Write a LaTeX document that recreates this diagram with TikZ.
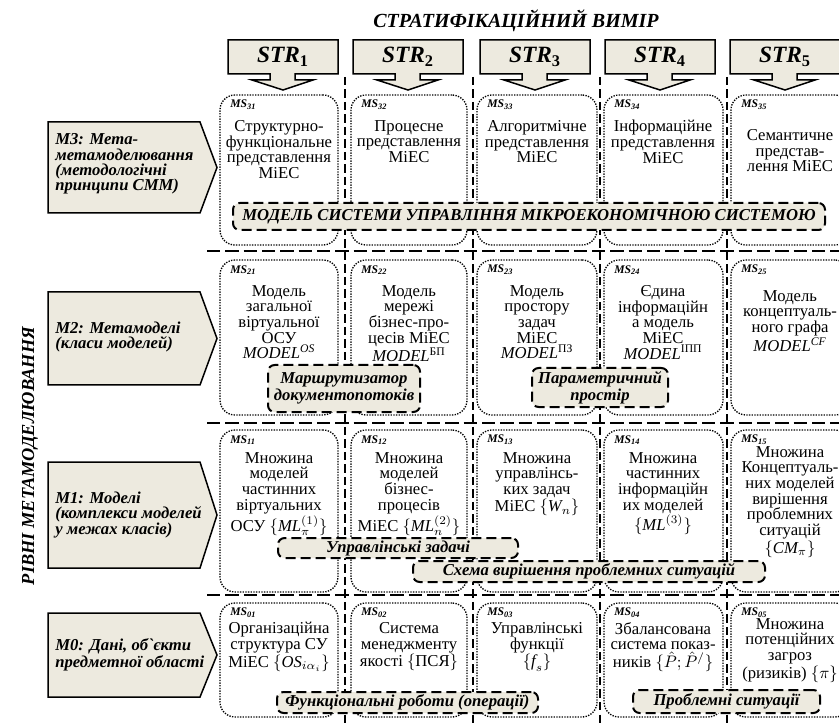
\documentclass[tikz,border=0pt]{standalone}
\usepackage{fontspec}
\setmainfont{Liberation Serif}
\usepackage{amsmath}
\usepackage{tikz}
\usetikzlibrary{fit}
\definecolor{bandfill}{RGB}{237,234,223}

\begin{document}
\begin{tikzpicture}[x=0.6pt,y=-0.6pt,
  divider/.style={line width=0.8pt, dash pattern=on 5pt off 2.5pt},
  rowline/.style={line width=0.8pt, dash pattern=on 8pt off 3pt},
  strbox/.style={draw, line width=0.9pt, fill=bandfill},
  strtext/.style={font=\fontsize{14}{14}\selectfont\bfseries\itshape, inner sep=0},
  lvlbox/.style={draw, line width=0.9pt, fill=bandfill},
  lvltext/.style={font=\fontsize{10}{9.2}\selectfont\bfseries\itshape, align=left, anchor=west, inner sep=0},
  msbox/.style={draw, line width=0.8pt, dash pattern=on 0.8pt off 0.8pt, rounded corners=9pt, inner sep=0},
  mslabel/.style={font=\fontsize{7}{7}\selectfont\bfseries\itshape, anchor=west, inner sep=0},
  cell/.style={font=\fontsize{10}{9.4}\selectfont, align=center, anchor=north, inner sep=0},
  band/.style={draw, fill=bandfill, line width=1.2pt, dash pattern=on 6pt off 3pt, rounded corners=4pt, inner sep=0, align=center, font=\fontsize{10}{10}\selectfont\bfseries\itshape},
  heading/.style={font=\fontsize{12}{12}\selectfont\bfseries\itshape}]
\useasboundingbox (0,0) rectangle (839,727);
\clip (0,0) rectangle (839,727);

\node[heading] (title) at (516,21) {СТРАТИФІКАЦІЙНИЙ ВИМІР};
\node[heading, rotate=90, font=\fontsize{11}{11}\selectfont\bfseries\itshape] (levels) at (30,456) {РІВНІ МЕТАМОДЕЛЮВАННЯ};

\foreach \x in {345,473,600,727}
  \draw[divider] (\x,77) -- (\x,727);
\foreach \y in {251,423,595}
  \draw[rowline] (207,\y) -- (839,\y);

\foreach \i/\x in {1/283,2/408,3/535,4/660,5/785}{
  \draw[strbox] (\x-55,40) -- (\x+55,40) -- (\x+55,74) -- (\x+12,74) -- (\x+12,80) -- (\x+30,80) -- (\x,90) -- (\x-31,80) -- (\x-13,80) -- (\x-13,74) -- (\x-55,74) -- cycle;
  \node[strtext] (str\i) at (\x,57) {STR\textsubscript{\upshape\i}};
}

\foreach \ya/\yb in {122/213, 292/385, 462/568, 613/697}
  \draw[lvlbox] (48,\ya) -- (200,\ya) -- (217,{(\ya+\yb)/2}) -- (200,\yb) -- (48,\yb) -- cycle;
\node[lvltext] (m3) at (55,164) {M3: Мета-\\метамоделювання\\(методологічні\\принципи СММ)};
\node[lvltext] (m2) at (55,337) {M2: Метамоделі\\(класи моделей)};
\node[lvltext] (m1) at (55,515) {M1: Моделі\\(комплекси моделей\\у межах класів)};
\node[lvltext] (m0) at (55,655) {M0: Дані, об\textasciigrave єкти\\предметної області};

\foreach \rn/\ya/\yb in {3/95/245, 2/260/415, 1/430/592, 0/603/717}
  \foreach \cn/\xa/\xb in {1/220/338, 2/351/467, 3/477/597, 4/604/723, 5/731/850}{
    \node[msbox, fit={(\xa,\ya) (\xb,\yb)}] (ms\rn\cn) {};
    \node[mslabel] (lab\rn\cn) at (\xa+10,\ya+10) {MS\textsubscript{\rn\cn}};
  }

\node[cell] (t31) at (279,120) {Структурно-\\функціональне\\представлення\\MiEC};
\node[cell] (t32) at (409,120) {Процесне\\представлення\\MiEC};
\node[cell] (t33) at (537,120) {Алгоритмічне\\представлення\\MiEC};
\node[cell] (t34) at (663,120) {Інформаційне\\представлення\\MiEC};
\node[cell] (t35) at (790,129) {Семантичне\\представ-\\лення MiEC};

\node[cell] (t21) at (279,285) {Модель\\загальної\\віртуальної\\ОСУ\\{\itshape MODEL\textsuperscript{OS}}};
\node[cell] (t22) at (409,285) {Модель\\мережі\\бізнес-про-\\цесів MiEC\\{\itshape MODEL}\textsuperscript{БП}};
\node[cell] (t23) at (537,285) {Модель\\простору\\задач\\MiEC\\{\itshape MODEL}\textsuperscript{ПЗ}};
\node[cell] (t24) at (663,285) {Єдина\\інформаційн\\а модель\\MiEC\\{\itshape MODEL}\textsuperscript{ІПП}};
\node[cell] (t25) at (790,290) {Модель\\концептуаль-\\ного графа\\{\itshape MODEL\textsuperscript{CF}}};

\node[cell] (t11) at (279,452) {Множина\\моделей\\частинних\\віртуальних\\ОСУ $\{\textit{ML}_\pi^{(1)}\}$};
\node[cell] (t12) at (409,452) {Множина\\моделей\\бізнес-\\процесів\\MiEC $\{\textit{ML}_n^{(2)}\}$};
\node[cell] (t13) at (537,452) {Множина\\управлінсь-\\ких задач\\MiEC $\{\textit{W}_n\}$};
\node[cell] (t14) at (663,452) {Множина\\частинних\\інформаційн\\их моделей\\$\{\textit{ML}^{(3)}\}$};
\node[cell] (t15) at (790,446) {Множина\\Концептуаль-\\них моделей\\вирішення\\проблемних\\ситуацій\\$\{\textit{CM}_\pi\}$};

\node[cell] (t01) at (279,622) {Організаційна\\структура СУ\\MiEC $\{\textit{OS}_{i\alpha_i}\}$};
\node[cell] (t02) at (409,622) {Система\\менеджменту\\якості $\{\text{ПСЯ}\}$};
\node[cell] (t03) at (537,622) {Управлінські\\функції\\$\{\textit{f}_s\}$};
\node[cell] (t04) at (663,622) {Збалансована\\система показ-\\ників $\{\hat{P};\hat{P}^{/}\}$};
\node[cell] (t05) at (790,618) {Множина\\потенційних\\загроз\\(ризиків) $\{\pi\}$};

\node[band, minimum width=355.2pt, minimum height=16.2pt] (bandms) at (529,216.5) {МОДЕЛЬ СИСТЕМИ УПРАВЛІННЯ МІКРОЕКОНОМІЧНОЮ СИСТЕМОЮ};
\node[band, minimum width=91.2pt, minimum height=28.2pt] (bandroute) at (344,388.5) {Маршрутизатор\\документопотоків};
\node[band, minimum width=81.6pt, minimum height=23.4pt] (bandparam) at (600,387.5) {Параметричний\\простір};
\node[band, minimum width=144pt, minimum height=12pt] (bandtasks) at (398,548) {Управлінські задачі};
\node[band, minimum width=211.2pt, minimum height=12.6pt] (bandscheme) at (589,571.5) {Схема вирішення проблемних ситуацій};
\node[band, minimum width=156.6pt, minimum height=12.6pt] (bandworks) at (407.5,702.5) {Функціональні роботи (операції)};
\node[band, minimum width=112.2pt, minimum height=13.8pt] (bandprob) at (726.5,701.5) {Проблемні ситуації};
\end{tikzpicture}
\end{document}
